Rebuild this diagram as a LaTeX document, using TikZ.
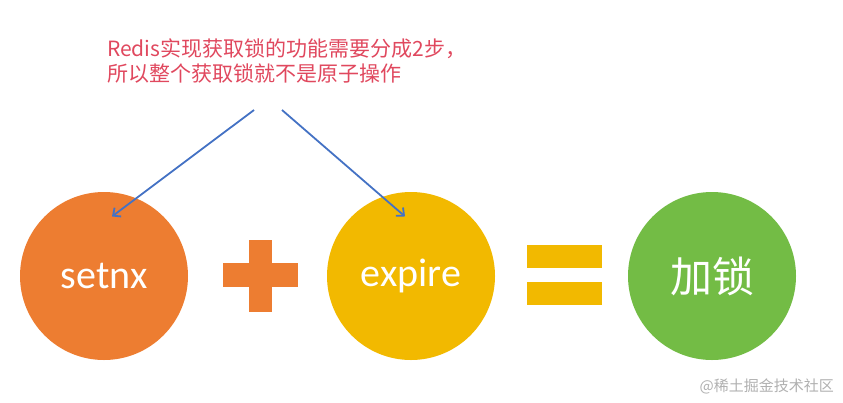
\documentclass[tikz,border=0pt]{standalone}
\usepackage{fontspec}
\setmainfont{Carlito}
\newfontfamily\cjk{Noto Sans CJK SC}
\usetikzlibrary{arrows.meta}
\definecolor{corange}{HTML}{ED7D31}
\definecolor{cyellow}{HTML}{F2B900}
\definecolor{cgreen}{HTML}{73BC45}
\definecolor{cblue}{HTML}{4472C4}
\definecolor{cred}{HTML}{E0485E}
\definecolor{cgray}{HTML}{B0B0B0}
\begin{document}
\begin{tikzpicture}[x=1pt,y=-1pt,
  ball/.style={circle,minimum size=168pt,inner sep=0pt,text=white},
  conn/.style={draw=cblue,line width=1.8pt,-{Straight Barb[length=6pt,width=11pt]}}]
\useasboundingbox (0,0) rectangle (843,402);
\node[anchor=north west,align=left,text=cred,font=\cjk\fontsize{21}{25}\selectfont,inner sep=0pt] (note) at (107,39)
 {Redis实现获取锁的功能需要分成2步，\\所以整个获取锁就不是原子操作};
\node[ball,fill=corange,font=\fontsize{40}{40}\selectfont] (a) at (104,276) {setnx};
\node[ball,fill=cyellow,font=\fontsize{40}{40}\selectfont] (b) at (411,276) {expire};
\node[ball,fill=cgreen,font=\cjk\fontsize{42}{42}\selectfont] (c) at (712,276) {加锁};
\fill[corange] (249,240) rectangle (272,312);
\fill[corange] (223,263) rectangle (298,287);
\fill[cyellow] (527,245) rectangle (602,268);
\fill[cyellow] (527,282) rectangle (602,305);
\coordinate (s1) at (254,110);
\coordinate (s2) at (282,110);
\draw[conn] (s1) -- (a.north west -| 112,189);
\draw[conn] (s2) -- (b.north west -| 405,189);
\node[anchor=east,text=cgray,font=\cjk\fontsize{15}{15}\selectfont,inner sep=0pt] (wm) at (834,386) {@稀土掘金技术社区};
\end{tikzpicture}
\end{document}
